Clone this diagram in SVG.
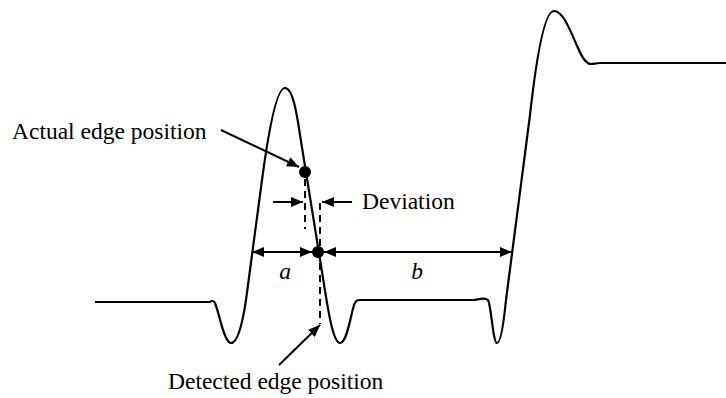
<svg xmlns="http://www.w3.org/2000/svg" width="726" height="398" viewBox="0 0 726 398">
<style>
.wave{fill:none;stroke:#000;stroke-width:2.2;stroke-linejoin:round}
.ln{fill:none;stroke:#000;stroke-width:2}
.dash{fill:none;stroke:#000;stroke-width:2;stroke-dasharray:7,5}
.lbl{font-family:"Liberation Serif","Times New Roman",serif;font-size:23.5px;fill:#000}
.it{font-style:italic}
</style>
<defs>
<marker id="ah" viewBox="0 0 12 10" refX="12" refY="5" markerWidth="12" markerHeight="10" markerUnits="userSpaceOnUse" orient="auto-start-reverse">
<path d="M0,0 L12,5 L0,10 Z" fill="#000"/>
</marker>
</defs>
<g id="waveform">
<path class="wave" d="M95,302 L209,302 C212,302 213,299 215,303 C219,312 224,343 231,343 C238,343 243,320 246,300 L262,180 C268,135 276,88 285,88 C293,88 297,115 300,135 L323,278 C328,310 333,343 340,343 C347,343 350,318 354,305 C356,300 357,300 360,300 L475,300 C480,299 485,297 488,300 C491,304 493,343 497,343 C501,343 504,320 506,300 L530,115 C535,70 543,11 554,11 C563,11 570,30 578,48 C583,60 587,64 591,64 C594,64 596,63 600,63 L726,63"/>
</g>
<g id="actual-point"><circle cx="305" cy="172" r="6"/></g>
<g id="detected-point"><circle cx="318" cy="252" r="6"/></g>
<g id="connectors">
<line class="ln" x1="221" y1="130" x2="299" y2="167" marker-end="url(#ah)"/>
<line class="ln" x1="279" y1="365" x2="320" y2="325" marker-end="url(#ah)"/>
<line class="dash" x1="305" y1="179" x2="305" y2="229"/>
<line class="dash" x1="320" y1="203" x2="320" y2="324"/>
<line class="ln" x1="273" y1="202" x2="303" y2="202" marker-end="url(#ah)"/>
<line class="ln" x1="352" y1="202" x2="322" y2="202" marker-end="url(#ah)"/>
<line class="ln" x1="252" y1="252" x2="312" y2="252" marker-start="url(#ah)" marker-end="url(#ah)"/>
<line class="ln" x1="324" y1="252" x2="512" y2="252" marker-start="url(#ah)" marker-end="url(#ah)"/>
</g>
<g id="labels">
<text class="lbl" x="12" y="139">Actual edge position</text>
<text class="lbl" x="362" y="209">Deviation</text>
<text class="lbl" x="168" y="389">Detected edge position</text>
<text class="lbl it" x="285" y="279" text-anchor="middle">a</text>
<text class="lbl it" x="417" y="279" text-anchor="middle">b</text>
</g>
</svg>
